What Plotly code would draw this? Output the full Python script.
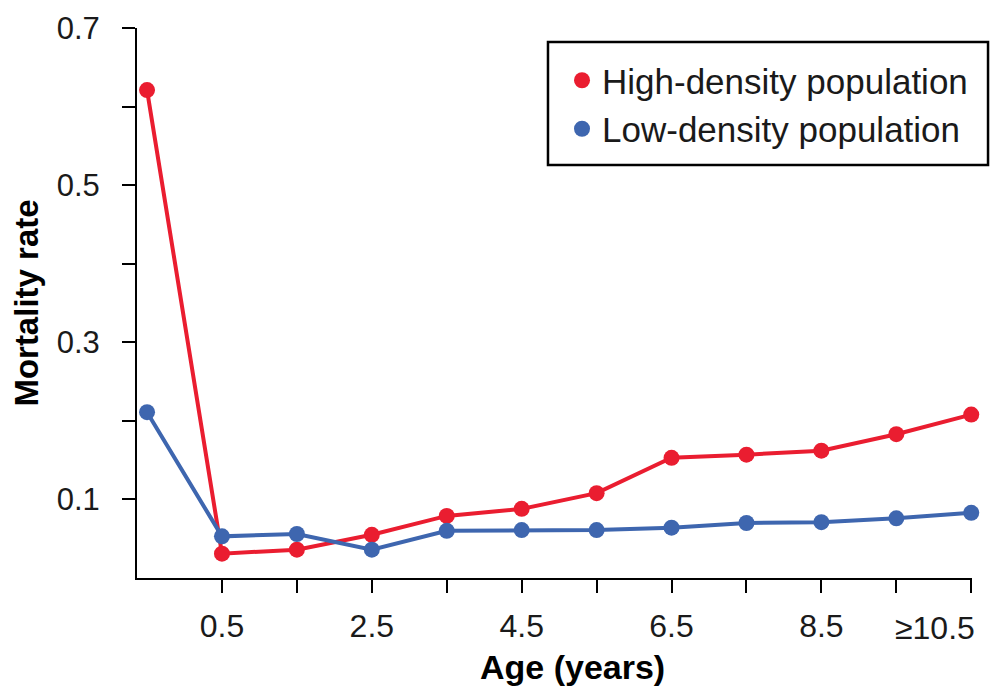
import plotly.graph_objects as go

# Data
age_index = list(range(12))
tick_positions = list(range(1, 12))
tick_labels = ["0.5", "", "2.5", "", "4.5", "", "6.5", "", "8.5", "", "≥10.5"]
high_density = [0.621, 0.031, 0.036, 0.055, 0.079, 0.088, 0.108, 0.153, 0.157, 0.162, 0.183, 0.208]
low_density = [0.211, 0.053, 0.056, 0.036, 0.060, 0.061, 0.061, 0.064, 0.070, 0.071, 0.076, 0.083]
y_ticks = [0.1, 0.2, 0.3, 0.4, 0.5, 0.6, 0.7]
y_labels = ["0.1", "", "0.3", "", "0.5", "", "0.7"]

RED = "#ea1d30"
BLUE = "#3e66af"
FONT = "Liberation Sans, Arial, sans-serif"

# the last label is right-aligned to its tick (as in the original) via an annotation
axis_labels = tick_labels[:-1] + [""]

fig = go.Figure()
fig.add_trace(go.Scatter(x=age_index, y=high_density, mode="lines+markers",
                         line=dict(color=RED, width=4), marker=dict(color=RED, size=16),
                         showlegend=False, cliponaxis=False))
fig.add_trace(go.Scatter(x=age_index, y=low_density, mode="lines+markers",
                         line=dict(color=BLUE, width=4), marker=dict(color=BLUE, size=16),
                         showlegend=False, cliponaxis=False))
# legend-only entries (markers only)
fig.add_trace(go.Scatter(x=[None], y=[None], mode="markers", name="High-density population",
                         marker=dict(color=RED, size=16), legendgroup="a"))
fig.add_trace(go.Scatter(x=[None], y=[None], mode="markers", name="Low-density population",
                         marker=dict(color=BLUE, size=16), legendgroup="b"))

fig.update_layout(
    width=1000, height=696,
    margin=dict(l=129, r=36, t=20, b=126, autoexpand=False),
    paper_bgcolor="white", plot_bgcolor="white",
    font=dict(family=FONT, size=31, color="#1a1a1a"),
    legend=dict(x=0.509, y=0.9582, xanchor="left", yanchor="top",
                borderwidth=0, bgcolor="rgba(0,0,0,0)",
                font=dict(size=35), tracegroupgap=0, traceorder="grouped"),
    shapes=[dict(type="rect", xref="paper", yref="paper",
                 x0=0.4922, x1=1.0192, y0=0.7509, y1=0.9745,
                 line=dict(color="black", width=2.5), fillcolor="rgba(0,0,0,0)")],
    annotations=[
        dict(text="<b>Age (years)</b>", xref="paper", yref="paper",
             x=0.521, y=-0.1618, xanchor="center", yanchor="middle",
             showarrow=False, font=dict(size=34, color="black")),
        dict(text=tick_labels[-1], xref="x", yref="paper",
             x=tick_positions[-1], y=0, xanchor="right", yanchor="middle",
             xshift=6, yshift=-50, showarrow=False, font=dict(size=32, color="#1a1a1a")),
    ],
    xaxis=dict(range=[-0.134, 11.01], tickvals=tick_positions, ticktext=axis_labels,
               showgrid=False, zeroline=False, showline=True, linecolor="black", linewidth=2,
               ticks="outside", ticklen=13, tickwidth=2, tickcolor="black",
               ticklabelstandoff=6, ticklabeloverflow="allow", tickfont=dict(size=32)),
    yaxis=dict(range=[0, 0.7], tickvals=y_ticks, ticktext=y_labels,
               showgrid=False, zeroline=False, showline=True, linecolor="black", linewidth=2,
               ticks="outside", ticklen=13, tickwidth=2, tickcolor="black",
               ticklabelstandoff=16, ticklabeloverflow="allow", tickfont=dict(size=31),
               title=dict(text="<b>Mortality rate</b>", font=dict(size=33, color="black"), standoff=8)),
)

fig.write_html("out.html")
